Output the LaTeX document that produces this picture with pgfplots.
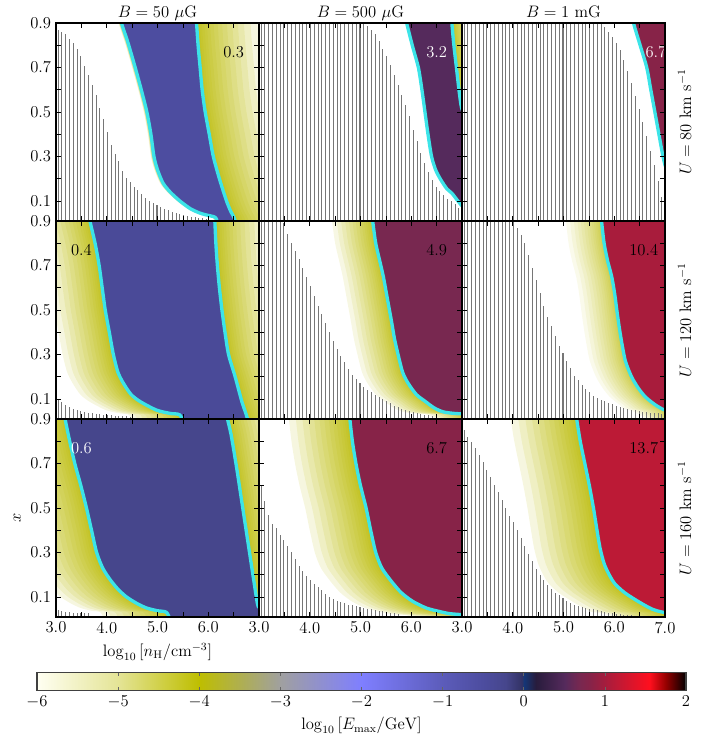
\documentclass[border=0pt]{standalone}
\usepackage{pgfplots}
\pgfplotsset{compat=1.18}
\usepackage{pgfplotstable}

\definecolor{olv}{RGB}{185,185,0}
\definecolor{cyanline}{RGB}{60,228,232}
\definecolor{hatchc}{RGB}{118,118,118}

\tikzset{numlab/.style={anchor=west, font=\fontsize{12}{14}\selectfont}}

\pgfplotsset{
  colormap={emax}{
    rgb255(-6)=(255,255,242)
    rgb255(-5)=(228,228,150)
    rgb255(-4)=(190,190,0)
    rgb255(-3)=(160,160,160)
    rgb255(-2)=(127,127,255)
    rgb255(-1)=(92,92,186)
    rgb255(-0.523)=(77,77,160)
    rgb255(-0.398)=(74,74,152)
    rgb255(-0.222)=(70,70,140)
    rgb255(-0.02)=(50,50,100)
    rgb255(0)=(20,55,120)
    rgb255(0.15)=(40,28,60)
    rgb255(0.505)=(85,42,92)
    rgb255(0.690)=(120,40,80)
    rgb255(0.826)=(135,35,72)
    rgb255(1.017)=(168,28,60)
    rgb255(1.137)=(188,26,54)
    rgb255(1.55)=(255,15,30)
    rgb255(1.75)=(150,0,0)
    rgb255(2)=(0,0,0)
  },
  panel/.style={
    scale only axis, width=146.16bp, height=142.56bp,
    anchor=north west,
    xmin=3, xmax=7, ymin=0.01, ymax=0.9,
    xtick={3,3.5,4,4.5,5,5.5,6,6.5,7},
    ytick={0.1,0.2,0.3,0.4,0.5,0.6,0.7,0.8,0.9},
    xticklabels={}, yticklabels={},
    tick align=inside, xtick pos=both, ytick pos=both,
    xticklabel pos=lower, yticklabel pos=left,
    major tick length=3.6bp,
    tick style={black, line width=0.5bp},
    axis line style={line width=0.8bp},
    axis on top,
    tick label style={font=\fontsize{12}{14}\selectfont},
    label style={font=\fontsize{12}{14}\selectfont},
    title style={font=\fontsize{12}{14}\selectfont, anchor=base, yshift=-1.9bp},
  },
  ylabs/.style={yticklabels={0.1,,0.3,,0.5,,0.7,,0.9}},
  xlabsA/.style={xticklabels={3.0,,4.0,,5.0,,6.0,,}},
  xlabsB/.style={xticklabels={3.0,,4.0,,5.0,,6.0,,7.0}},
  rowlab/.style={ylabel={#1},
    ylabel style={at={(axis description cs:1.04,0.5)}, anchor=north}},
  contour/.style={smooth, tension=0.45},
}

% heights of the hatched (excluded) strips in each panel
\pgfplotstableread{
x     h11   h12   h13   h21   h22   h23   h31   h32   h33
3.040 0.870 0.9   0.9   0.100 0.9   0.9   0.040 0.600 0.850
3.115 0.860 0.9   0.9   0.085 0.9   0.9   0.036 0.530 0.820
3.190 0.850 0.9   0.9   0.072 0.9   0.9   0.033 0.470 0.795
3.265 0.830 0.9   0.9   0.062 0.9   0.9   0.031 0.430 0.770
3.340 0.810 0.9   0.9   0.055 0.9   0.9   0.030 0.410 0.740
3.415 0.785 0.9   0.9   0.050 0.9   0.9   0.029 0.380 0.705
3.490 0.750 0.9   0.9   0.045 0.890 0.9   0.028 0.355 0.670
3.565 0.705 0.9   0.9   0.042 0.840 0.9   0.027 0.330 0.640
3.640 0.665 0.9   0.9   0.038 0.800 0.9   0.026 0.300 0.605
3.715 0.620 0.9   0.9   0.035 0.765 0.9   0     0.270 0.570
3.790 0.575 0.9   0.9   0.033 0.730 0.9   0     0.240 0.535
3.865 0.520 0.9   0.9   0.031 0.690 0.9   0     0.215 0.500
3.940 0.470 0.9   0.9   0.029 0.650 0.9   0     0.195 0.465
4.015 0.410 0.9   0.9   0.027 0.610 0.895 0     0.175 0.435
4.090 0.350 0.9   0.9   0.026 0.565 0.870 0     0.160 0.400
4.165 0.310 0.9   0.9   0.025 0.520 0.835 0     0.145 0.365
4.240 0.280 0.9   0.9   0.024 0.480 0.800 0     0.130 0.330
4.315 0.235 0.9   0.9   0.023 0.440 0.745 0     0.115 0.295
4.390 0.205 0.9   0.9   0.022 0.400 0.690 0     0.100 0.260
4.465 0.185 0.9   0.9   0.021 0.360 0.635 0     0.090 0.225
4.540 0.165 0.9   0.9   0     0.325 0.575 0     0.083 0.200
4.615 0.150 0.9   0.9   0     0.295 0.520 0     0.077 0.175
4.690 0.130 0.9   0.9   0     0.265 0.470 0     0.071 0.155
4.765 0.115 0.9   0.9   0     0.235 0.430 0     0.066 0.135
4.840 0.100 0.9   0.9   0     0.210 0.385 0     0.062 0.120
4.915 0.090 0.9   0.9   0     0.190 0.340 0     0.058 0.108
4.990 0.080 0.9   0.9   0     0.170 0.305 0     0.054 0.095
5.065 0.072 0.895 0.9   0     0.155 0.270 0     0.050 0.083
5.140 0.065 0.885 0.9   0     0.140 0.240 0     0.047 0.073
5.215 0.058 0.870 0.9   0     0.130 0.205 0     0.044 0.066
5.290 0.052 0.850 0.9   0     0.120 0.185 0     0.041 0.060
5.365 0.046 0.820 0.9   0     0.110 0.165 0     0.038 0.056
5.440 0.040 0.785 0.9   0     0.100 0.145 0     0.035 0.052
5.515 0.036 0.750 0.9   0     0.090 0.130 0     0.032 0.048
5.590 0.032 0.710 0.9   0     0.080 0.115 0     0.029 0.044
5.665 0.029 0.665 0.9   0     0.070 0.105 0     0.026 0.040
5.740 0.027 0.620 0.895 0     0.062 0.097 0     0.023 0.036
5.815 0.025 0.575 0.880 0     0.055 0.090 0     0     0.032
5.890 0.023 0.530 0.860 0     0.049 0.083 0     0     0.029
5.965 0.020 0.480 0.835 0     0.044 0.076 0     0     0.027
6.040 0     0.420 0.810 0     0.040 0.070 0     0     0.025
6.115 0     0.370 0.780 0     0.036 0.064 0     0     0.023
6.190 0     0.315 0.735 0     0.032 0.059 0     0     0.021
6.265 0     0.270 0.685 0     0.029 0.055 0     0     0.020
6.340 0     0.230 0.630 0     0.026 0.052 0     0     0.018
6.415 0     0.195 0.570 0     0.023 0.049 0     0     0.016
6.490 0     0.165 0.515 0     0.020 0.046 0     0     0.014
6.565 0     0.145 0.455 0     0     0.043 0     0     0
6.640 0     0.125 0.390 0     0     0.041 0     0     0
6.715 0     0.110 0.325 0     0     0.039 0     0     0
6.790 0     0.100 0.260 0     0     0.037 0     0     0
6.865 0     0.085 0.190 0     0     0.035 0     0     0
6.940 0     0.070 0.120 0     0     0.033 0     0     0
}\hatchtab

% plateau contours: x, y, and the sideways reach d of the fading halo
\pgfplotstableread{
x y d
4.25 1.20 -0.06
4.25 0.95 -0.06
4.29 0.90 -0.06
4.42 0.81 -0.06
4.56 0.70 -0.06
4.68 0.60 -0.06
4.79 0.50 -0.06
4.87 0.40 -0.06
4.93 0.30 -0.06
5.00 0.24 -0.06
5.11 0.18 -0.06
5.25 0.14 -0.06
5.44 0.10 -0.06
5.65 0.065 -0.06
5.84 0.045 -0.06
6.00 0.035 -0.06
6.10 0.03 -0.06
6.16 0.02 -0.06
6.18 -0.02 -0.06
6.18 -0.20 -0.06
6.55 -0.20 1.2
6.55 -0.02 1.2
6.50 0.03 1.2
6.45 0.05 1.2
6.36 0.10 1.2
6.22 0.20 1.2
6.10 0.30 1.2
6.02 0.40 1.2
5.94 0.50 1.2
5.88 0.60 1.2
5.84 0.70 1.2
5.80 0.80 1.2
5.77 0.90 1.2
5.76 0.95 1.2
5.76 1.20 1.2
}\cAA

\pgfplotstableread{
x y d
5.88 1.20 0
5.88 0.95 0
5.91 0.90 0
6.02 0.80 0
6.14 0.70 0
6.21 0.60 0
6.27 0.50 0
6.33 0.40 0
6.40 0.30 0
6.48 0.24 0
6.57 0.20 0
6.70 0.155 0
6.80 0.135 0
6.92 0.10 0
7.05 0.07 0
7.30 0.07 0
7.30 0.50 0.5
7.05 0.50 0.5
6.99 0.52 0.5
6.94 0.60 0.5
6.89 0.70 0.5
6.84 0.80 0.5
6.80 0.90 0.5
6.79 0.95 0.5
6.79 1.20 0.5
}\cAB

\pgfplotstableread{
x y d
6.36 1.20 0
6.36 0.95 0
6.38 0.90 0
6.51 0.80 0
6.64 0.70 0
6.72 0.60 0
6.80 0.50 0
6.88 0.40 0
6.97 0.29 0
7.05 0.24 0
7.30 0.24 0
7.30 1.20 0
}\cAC

\pgfplotstableread{
x y d
3.66 1.20 -1.0
3.66 0.95 -1.0
3.67 0.90 -1.0
3.77 0.80 -1.0
3.85 0.70 -1.0
3.91 0.60 -1.0
3.97 0.50 -1.0
4.05 0.40 -1.0
4.13 0.30 -1.0
4.22 0.22 -1.0
4.33 0.17 -1.0
4.48 0.12 -1.0
4.66 0.088 -1.0
4.98 0.05 -1.0
5.25 0.035 -1.0
5.44 0.028 -1.0
5.50 -0.02 -1.0
5.50 -0.20 -1.0
6.80 -0.20 1.0
6.80 -0.02 1.0
6.66 0.09 1.0
6.53 0.20 1.0
6.40 0.30 1.0
6.33 0.40 1.0
6.27 0.50 1.0
6.22 0.60 1.0
6.18 0.70 1.0
6.15 0.80 1.0
6.13 0.90 1.0
6.12 0.95 1.0
6.12 1.20 1.0
}\cBA

\pgfplotstableread{
x y d
5.22 1.20 -0.8
5.22 0.95 -0.8
5.24 0.90 -0.8
5.30 0.80 -0.8
5.38 0.72 -0.8
5.45 0.65 -0.8
5.53 0.55 -0.8
5.61 0.45 -0.8
5.67 0.37 -0.8
5.74 0.30 -0.8
5.83 0.22 -0.8
5.94 0.17 -0.8
6.10 0.12 -0.8
6.27 0.09 -0.8
6.45 0.06 -0.8
6.63 0.042 -0.8
6.85 0.035 -0.8
7.05 0.033 -0.8
7.30 0.033 0
7.30 1.20 0
}\cBB

\pgfplotstableread{
x y d
5.74 1.20 -0.7
5.74 0.95 -0.7
5.75 0.90 -0.7
5.80 0.80 -0.7
5.87 0.72 -0.7
5.95 0.65 -0.7
6.01 0.57 -0.7
6.05 0.50 -0.7
6.10 0.42 -0.7
6.15 0.35 -0.7
6.22 0.27 -0.7
6.34 0.20 -0.7
6.47 0.15 -0.7
6.61 0.11 -0.7
6.80 0.075 -0.7
7.00 0.05 -0.7
7.30 0.045 0
7.30 1.20 0
}\cBC

\pgfplotstableread{
x y d
3.16 1.20 -1.3
3.16 0.95 -1.3
3.18 0.90 -1.3
3.27 0.80 -1.3
3.37 0.70 -1.3
3.49 0.60 -1.3
3.60 0.50 -1.3
3.70 0.40 -1.3
3.80 0.30 -1.3
3.92 0.23 -1.3
4.06 0.18 -1.3
4.22 0.135 -1.3
4.39 0.10 -1.3
4.60 0.07 -1.3
4.79 0.05 -1.3
5.00 0.038 -1.3
5.18 0.03 -1.3
5.25 -0.02 -1.3
5.25 -0.20 -1.3
7.30 -0.20 0.9
7.30 0.03 0.9
7.02 0.05 0.9
6.97 0.07 0.9
6.90 0.17 0.9
6.80 0.32 0.9
6.68 0.50 0.9
6.56 0.68 0.9
6.45 0.83 0.9
6.38 0.90 0.9
6.36 0.95 0.9
6.36 1.20 0.9
}\cCA

\pgfplotstableread{
x y d
4.77 1.20 -1.2
4.77 0.95 -1.2
4.79 0.90 -1.2
4.84 0.80 -1.2
4.91 0.70 -1.2
5.00 0.60 -1.2
5.11 0.50 -1.2
5.20 0.40 -1.2
5.30 0.30 -1.2
5.42 0.23 -1.2
5.61 0.17 -1.2
5.80 0.12 -1.2
6.03 0.08 -1.2
6.30 0.05 -1.2
6.55 0.035 -1.2
6.76 0.025 -1.2
7.05 0.02 -1.2
7.30 0.02 0
7.30 1.20 0
}\cCB

\pgfplotstableread{
x y d
5.24 1.20 -1.3
5.24 0.95 -1.3
5.26 0.90 -1.3
5.33 0.80 -1.3
5.42 0.70 -1.3
5.51 0.60 -1.3
5.59 0.50 -1.3
5.66 0.40 -1.3
5.72 0.32 -1.3
5.80 0.25 -1.3
5.90 0.20 -1.3
6.01 0.16 -1.3
6.20 0.12 -1.3
6.47 0.08 -1.3
6.75 0.045 -1.3
7.00 0.03 -1.3
7.30 0.03 0
7.30 1.20 0
}\cCC

% fading halo: stacked translucent copies of the contour, pushed sideways;
% the reaches crowd towards the contour so the tint falls off quickly
\newcommand{\glow}[2]{%
  \pgfplotsinvokeforeach{1.0,0.886,0.778,0.678,0.585,0.498,0.419,0.346,0.280,0.221,0.170,0.125,0.087,0.055,0.031,0.014}{%
    \addplot[contour, draw=none, fill=olv, fill opacity=#2, forget plot]
      table[x expr=\thisrow{x}+##1*\thisrow{d}, y=y] {#1};
  }%
}
% #1 contour, #2 halo opacity, #3 colormap position of E_max, #4 hatch column
\newcommand{\panelbody}[4]{%
  \glow{#1}{#2}
  \addplot[contour, draw=none, fill, color of colormap={#3 of emax}, forget plot]
    table[x=x, y=y] {#1};
  \addplot[ycomb, color=hatchc, line width=0.75bp, forget plot]
    table[x=x, y=#4] {\hatchtab};
  \addplot[contour, draw=cyanline, line width=2.4bp, line join=round, line cap=round, forget plot]
    table[x=x, y=y] {#1};
}

\begin{document}
\begin{tikzpicture}
\useasboundingbox (0,0) rectangle (509.76bp,-532.8bp);

% ---- U = 80 km/s ----
\begin{axis}[panel, ylabs, at={(40.32bp,-16.56bp)}, title={$B=50~\mu$G}]
  \panelbody{\cAA}{0.12}{684.6}{h11}
  \node[numlab] at (axis cs:6.2,0.77) {0.3};
\end{axis}
\begin{axis}[panel, at={(186.48bp,-16.56bp)}, title={$B=500~\mu$G}]
  \panelbody{\cAB}{0.12}{813.1}{h12}
  \node[numlab, text=white] at (axis cs:6.2,0.77) {3.2};
\end{axis}
\begin{axis}[panel, at={(332.64bp,-16.56bp)}, title={$B=1$ mG},
    rowlab={$U=80$ km s$^{-1}$}]
  \panelbody{\cAC}{0}{853.3}{h13}
  \node[numlab, text=white] at (axis cs:6.52,0.77) {6.7};
\end{axis}

% ---- U = 120 km/s ----
\begin{axis}[panel, ylabs, at={(40.32bp,-159.12bp)}]
  \panelbody{\cBA}{0.12}{700.3}{h21}
  \node[numlab] at (axis cs:3.2,0.77) {0.4};
\end{axis}
\begin{axis}[panel, at={(186.48bp,-159.12bp)}]
  \panelbody{\cBB}{0.11}{836.3}{h22}
  \node[numlab] at (axis cs:6.2,0.77) {4.9};
\end{axis}
\begin{axis}[panel, at={(332.64bp,-159.12bp)},
    rowlab={$U=120$ km s$^{-1}$}]
  \panelbody{\cBC}{0.08}{877.1}{h23}
  \node[numlab] at (axis cs:6.2,0.77) {10.4};
\end{axis}

% ---- U = 160 km/s ----
\begin{axis}[panel, ylabs, xlabsA, at={(40.32bp,-301.68bp)},
    xlabel={$\log_{10}\,[n_{\rm H}/{\rm cm^{-3}}]$}, ylabel={$x$},
    colorbar horizontal, point meta min=-6, point meta max=2,
    colorbar style={
      at={(parent axis.south west)}, anchor=north west,
      xshift=-13.68bp, yshift=-31.68bp,
      scale only axis, width=467.28bp, height=12.96bp,
      xtick={-6,-5,-4,-3,-2,-1,0,1,2},
      tick align=inside, major tick length=2.5bp,
      tick style={black!60, line width=0.5bp},
      axis line style={black!75, line width=0.8bp},
      tick label style={font=\fontsize{11.5}{13}\selectfont},
      xlabel={$\log_{10}\,[E_{\rm max}/{\rm GeV}]$},
      label style={font=\fontsize{12}{14}\selectfont},
    }]
  \panelbody{\cCA}{0.12}{722.3}{h31}
  \node[numlab, text=white] at (axis cs:3.2,0.77) {0.6};
\end{axis}
\begin{axis}[panel, xlabsA, at={(186.48bp,-301.68bp)}]
  \panelbody{\cCB}{0.125}{853.3}{h32}
  \node[numlab] at (axis cs:6.2,0.77) {6.7};
\end{axis}
\begin{axis}[panel, xlabsB, at={(332.64bp,-301.68bp)},
    rowlab={$U=160$ km s$^{-1}$}]
  \panelbody{\cCC}{0.125}{892.1}{h33}
  \node[numlab] at (axis cs:6.2,0.77) {13.7};
\end{axis}
\end{tikzpicture}
\end{document}
